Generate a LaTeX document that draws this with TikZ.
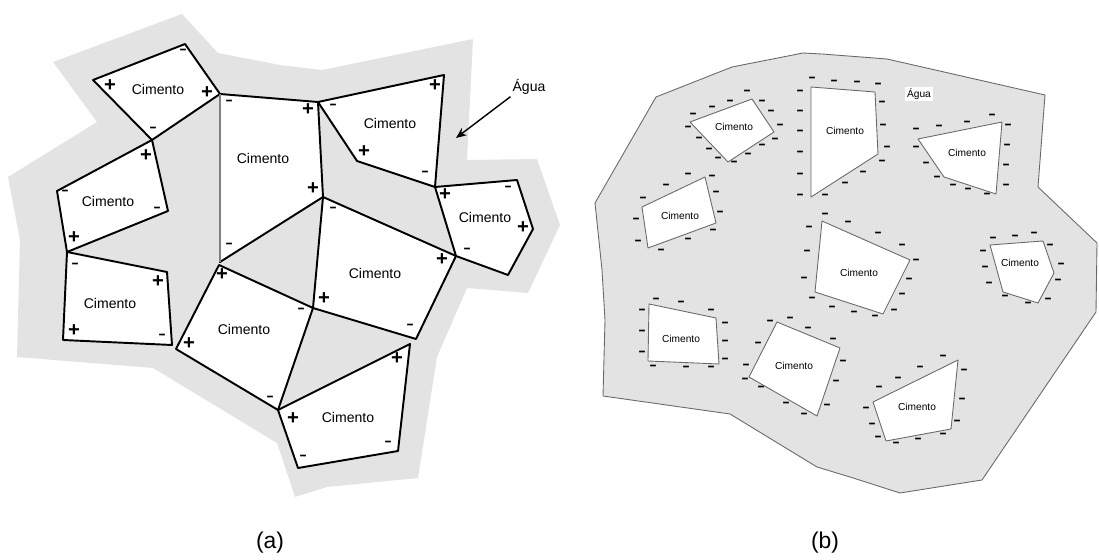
\documentclass[tikz,border=0pt]{standalone}
\usepackage{fontspec}
\setmainfont{Liberation Sans}
\usetikzlibrary{arrows.meta}
\definecolor{Agua}{RGB}{227,227,227}
\definecolor{Contorno}{RGB}{105,105,105}
\tikzset{
    agua/.style={fill=Agua},
    aguaB/.style={fill=Agua, draw=Contorno, line width=0.5pt, line join=round},
    cimA/.style={fill=white, draw=black, line width=1.1pt, line join=round},
    cimB/.style={fill=white, draw=Contorno, line width=0.5pt, line join=round},
    rotA/.style={font=\fontsize{8}{9}\selectfont, inner sep=0pt},
    rotB/.style={font=\fontsize{5.8}{7}\selectfont, inner sep=0pt},
    mais/.style={font=\fontsize{11.5}{12}\selectfont\bfseries, inner sep=0pt},
    menos/.style={font=\fontsize{9.5}{10}\selectfont\bfseries, inner sep=0pt,
        text height=3.2pt, text depth=0pt},
    legenda/.style={font=\fontsize{13}{15}\selectfont, inner sep=0pt},
    seta/.style={-{Stealth[length=6pt, width=5pt]}, line width=0.8pt}
}
\newcommand{\traco}{\scalebox{0.7}[1]{--}}

\begin{document}
\begin{tikzpicture}[x=0.02cm, y=-0.02cm]
    \useasboundingbox (0,0) rectangle (1099,560);

    % (a) agua em volta dos graos
    \fill[agua] (53,62) -- (182,14) -- (218,53) -- (280,65) -- (322,70) -- (473,39)
        -- (467,160) -- (537,159) -- (560,225) -- (528,293) -- (467,288) -- (437,357)
        -- (418,478) -- (327,487) -- (295,497) -- (277,443) -- (153,368) -- (17,357)
        -- (20,240) -- (8,177) -- (97,122) -- cycle;

    % vertices dos graos
    \coordinate (p1) at (93,80);
    \coordinate (p2) at (185,44);
    \coordinate (p3) at (220,94);
    \coordinate (p4) at (152,140);
    \coordinate (p5) at (168,211);
    \coordinate (p6) at (67,252);
    \coordinate (p7) at (57,191);
    \coordinate (p8) at (167,272);
    \coordinate (p9) at (172,345);
    \coordinate (p10) at (63,340);
    \coordinate (p11) at (318,102);
    \coordinate (p12) at (323,197);
    \coordinate (p13) at (220,262);
    \coordinate (p14) at (444,75);
    \coordinate (p15) at (435,187);
    \coordinate (p16) at (357,161);
    \coordinate (p17) at (517,180);
    \coordinate (p18) at (533,229);
    \coordinate (p19) at (508,275);
    \coordinate (p20) at (456,256);
    \coordinate (p21) at (416,339);
    \coordinate (p22) at (313,308);
    \coordinate (p23) at (219,265);
    \coordinate (p24) at (278,410);
    \coordinate (p25) at (176,349);
    \coordinate (p26) at (410,344);
    \coordinate (p27) at (398,451);
    \coordinate (p28) at (298,468);

    \draw[cimA] (p1) -- (p2) -- (p3) -- (p4) -- cycle;
    \draw[cimA] (p4) -- (p5) -- (p6) -- (p7) -- cycle;
    \draw[cimA] (p6) -- (p8) -- (p9) -- (p10) -- cycle;
    \draw[cimA] (p3) -- (p11) -- (p12) -- (p13) -- cycle;
    \draw[gray, line width=1pt] (p3) -- (p13);
    \draw[cimA] (p11) -- (p14) -- (p15) -- (p16) -- cycle;
    \draw[cimA] (p15) -- (p17) -- (p18) -- (p19) -- (p20) -- cycle;
    \draw[cimA] (p12) -- (p20) -- (p21) -- (p22) -- cycle;
    \draw[cimA] (p23) -- (p22) -- (p24) -- (p25) -- cycle;
    \draw[cimA] (p24) -- (p26) -- (p27) -- (p28) -- cycle;

    % rotulos e cargas
    \node[rotA] (c1) at (158,89) {Cimento};
    \node[mais] (c1a) at (110,86) {+};
    \node[mais] (c1b) at (207,93) {+};
    \node[menos] (c1c) at (183,52) {\traco};
    \node[menos] (c1d) at (153,130) {\traco};

    \node[rotA] (c2) at (108,201) {Cimento};
    \node[mais] (c2a) at (146,156) {+};
    \node[menos] (c2b) at (65,193) {\traco};
    \node[menos] (c2c) at (157,210) {\traco};
    \node[mais] (c2d) at (74,238) {+};

    \node[rotA] (c3) at (110,303) {Cimento};
    \node[menos] (c3a) at (75,266) {\traco};
    \node[mais] (c3b) at (158,282) {+};
    \node[mais] (c3c) at (74,331) {+};
    \node[menos] (c3d) at (162,337) {\traco};

    \node[rotA] (c4) at (263,158) {Cimento};
    \node[menos] (c4a) at (229,103) {\traco};
    \node[menos] (c4b) at (229,246) {\traco};
    \node[mais] (c4c) at (308,110) {+};
    \node[mais] (c4d) at (313,189) {+};

    \node[rotA] (c5) at (390,123) {Cimento};
    \node[menos] (c5a) at (333,107) {\traco};
    \node[mais] (c5b) at (435,86) {+};
    \node[mais] (c5c) at (364,152) {+};
    \node[menos] (c5d) at (425,174) {\traco};

    \node[rotA] (c6) at (485,217) {Cimento};
    \node[mais] (c6a) at (445,195) {+};
    \node[menos] (c6b) at (508,189) {\traco};
    \node[mais] (c6c) at (523,228) {+};
    \node[menos] (c6d) at (467,251) {\traco};

    \node[rotA] (c7) at (375,273) {Cimento};
    \node[menos] (c7a) at (333,210) {\traco};
    \node[mais] (c7b) at (442,260) {+};
    \node[mais] (c7c) at (324,299) {+};
    \node[menos] (c7d) at (410,327) {\traco};

    \node[rotA] (c8) at (244,329) {Cimento};
    \node[mais] (c8a) at (222,275) {+};
    \node[menos] (c8b) at (301,311) {\traco};
    \node[mais] (c8c) at (189,344) {+};
    \node[menos] (c8d) at (270,399) {\traco};

    \node[rotA] (c9) at (348,417) {Cimento};
    \node[mais] (c9a) at (397,359) {+};
    \node[mais] (c9b) at (293,419) {+};
    \node[menos] (c9c) at (388,444) {\traco};
    \node[menos] (c9d) at (303,458) {\traco};

    \node[rotA, inner sep=1pt] (aguaA) at (529,87) {Água};
    \coordinate (alvoA) at (456,138);
    \draw[seta] (aguaA.south west) -- (alvoA);

    % (b) graos isolados na agua
    \draw[aguaB] (656,97) -- (732,67) -- (803,53) -- (822,54) -- (887,59) -- (1045,95)
        -- (1038,187) -- (1097,243) -- (1096,312) -- (982,480) -- (900,493) -- (850,477)
        -- (817,467) -- (730,414) -- (603,396) -- (605,320) -- (602,270) -- (595,203)
        -- cycle;

    \draw[cimB] (690,122) -- (752,99) -- (774,132) -- (728,162) -- cycle;
    \draw[cimB] (642,207) -- (705,177) -- (716,223) -- (648,248) -- cycle;
    \draw[cimB] (811,87) -- (875,92) -- (878,154) -- (811,197) -- cycle;
    \draw[cimB] (918,139) -- (1002,122) -- (996,194) -- (944,177) -- cycle;
    \draw[cimB] (822,221) -- (910,260) -- (883,314) -- (815,292) -- cycle;
    \draw[cimB] (990,245) -- (1043,241) -- (1054,273) -- (1038,303) -- (1003,292) -- cycle;
    \draw[cimB] (649,304) -- (716,318) -- (719,364) -- (648,361) -- cycle;
    \draw[cimB] (777,322) -- (840,348) -- (817,416) -- (749,377) -- cycle;
    \draw[cimB] (873,402) -- (958,360) -- (951,429) -- (886,441) -- cycle;

    \node[rotB] (d1) at (734,127) {Cimento};
    \node[rotB] (d2) at (680,216) {Cimento};
    \node[rotB] (d3) at (845,131) {Cimento};
    \node[rotB] (d4) at (967,153) {Cimento};
    \node[rotB] (d5) at (859,273) {Cimento};
    \node[rotB] (d6) at (1020,263) {Cimento};
    \node[rotB] (d7) at (681,339) {Cimento};
    \node[rotB] (d8) at (794,366) {Cimento};
    \node[rotB] (d9) at (917,407) {Cimento};
    \node[rotB, fill=white, inner sep=1pt] (aguaB) at (919,94) {Água};

    % cargas negativas em volta de cada grao
    \foreach \x/\y [count=\i] in {747/93, 730/103, 762/103, 712/109, 771/113, 693/116,
        780/127, 688/129, 775/141, 699/140, 762/147, 709/151, 748/156, 718/160, 734/164}
        \node[menos] (m1-\i) at (\x,\y) {\traco};
    \foreach \x/\y [count=\i] in {688/176, 712/178, 666/187, 716/194, 643/200, 720/214,
        636/221, 713/232, 638/243, 688/241, 661/252}
        \node[menos] (m2-\i) at (\x,\y) {\traco};
    \foreach \x/\y [count=\i] in {800/93, 800/113, 800/133, 800/154, 800/176, 800/197,
        812/80, 834/83, 857/84, 878/86, 882/104, 883/127, 887/149, 882/163, 863/174,
        845/185, 825/197}
        \node[menos] (m3-\i) at (\x,\y) {\traco};
    \foreach \x/\y [count=\i] in {916/131, 939/128, 967/124, 992/117, 1008/127, 1007/147,
        1006/167, 1006/187, 916/149, 926/165, 937/179, 953/187, 968/191, 987/196}
        \node[menos] (m4-\i) at (\x,\y) {\traco};
    \foreach \x/\y [count=\i] in {825/216, 848/224, 878/235, 902/247, 916/262, 909/281,
        902/296, 894/312, 875/318, 854/314, 832/309, 812/300, 804/280, 807/253, 809/229}
        \node[menos] (m5-\i) at (\x,\y) {\traco};
    \foreach \x/\y [count=\i] in {993/240, 1015/238, 1034/235, 1050/247, 1061/266,
        1058/282, 983/253, 985/269, 989/285, 1005/298, 1028/305, 1048/301}
        \node[menos] (m6-\i) at (\x,\y) {\traco};
    \foreach \x/\y [count=\i] in {656/301, 681/304, 711/312, 642/312, 642/333, 642/354,
        725/325, 725/343, 725/361, 653/368, 686/369, 711/369}
        \node[menos] (m7-\i) at (\x,\y) {\traco};
    \foreach \x/\y [count=\i] in {770/323, 790/320, 808/330, 833/341, 758/345, 746/367,
        745/381, 761/389, 786/405, 804/416, 827/407, 836/383, 843/363}
        \node[menos] (m8-\i) at (\x,\y) {\traco};
    \foreach \x/\y [count=\i] in {943/358, 920/369, 898/380, 879/389, 866/410, 872/426,
        878/439, 896/445, 918/441, 943/436, 957/423, 962/401, 964/372}
        \node[menos] (m9-\i) at (\x,\y) {\traco};

    % legendas
    \node[legenda] (legA) at (270,543) {(a)};
    \node[legenda] (legB) at (825,543) {(b)};
\end{tikzpicture}
\end{document}
